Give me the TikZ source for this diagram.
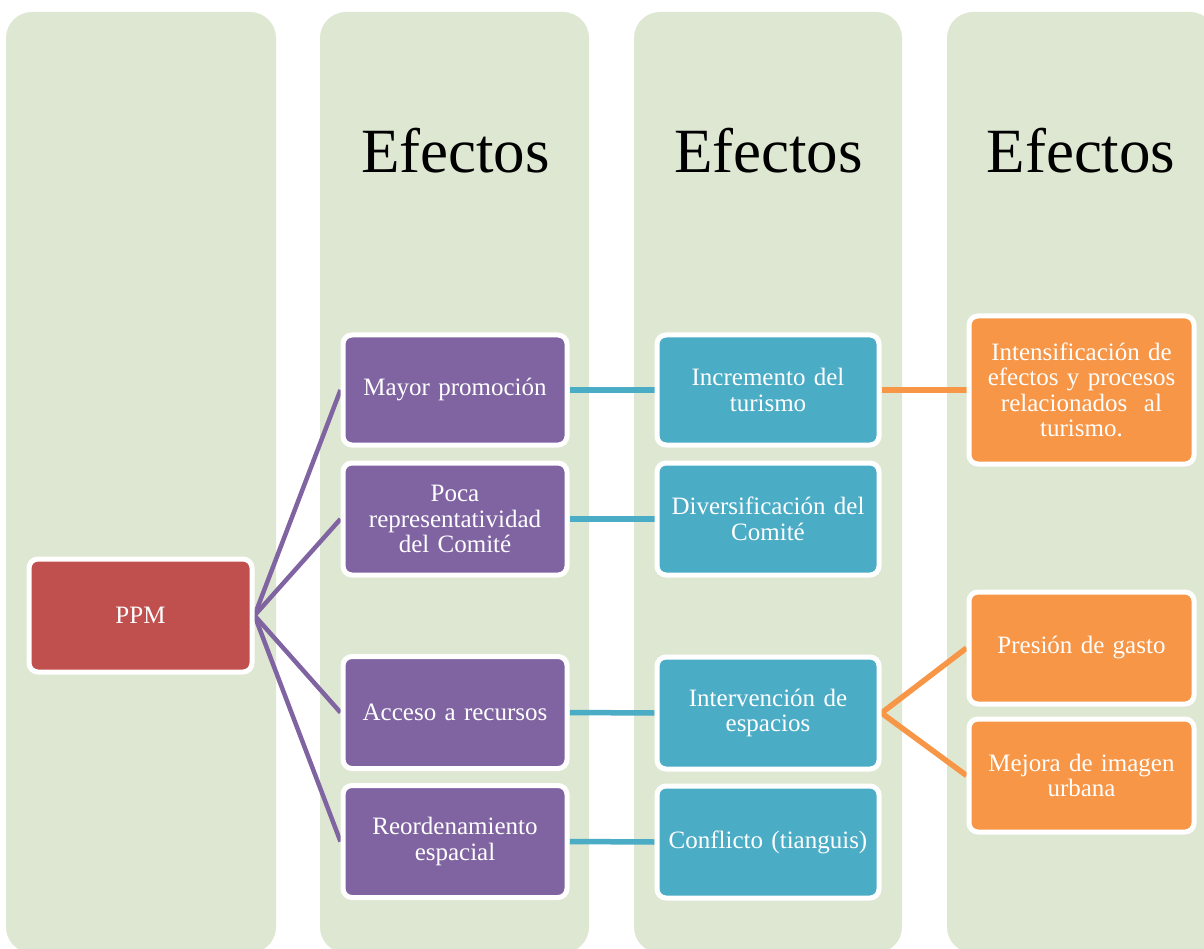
\documentclass[tikz,border=0pt]{standalone}
\usepackage{fontspec}
\setmainfont{Liberation Serif}
\pgfdeclarelayer{cols}
\pgfdeclarelayer{lines}
\pgfsetlayers{cols,lines,main}
\definecolor{colbg}{RGB}{222,231,210}
\definecolor{ppmred}{RGB}{192,80,77}
\definecolor{purp}{RGB}{128,100,162}
\definecolor{teal}{RGB}{75,172,198}
\definecolor{orng}{RGB}{247,150,70}
\begin{document}
\begin{tikzpicture}[x=1pt,y=-1pt,
  box/.style={draw=white, line width=5pt, rounded corners=9pt, minimum width=224pt,
    minimum height=110pt, text width=214pt, inner sep=0pt, text=white, align=center,
    font=\fontsize{25}{25.5}\selectfont},
  pbox/.style={box, fill=purp},
  tbox/.style={box, fill=teal, minimum width=222pt},
  obox/.style={box, fill=orng, minimum width=225pt},
  head/.style={font=\fontsize{63}{70}\selectfont, anchor=base, inner sep=0pt},
  col/.style={fill=colbg, rounded corners=26pt},
  plink/.style={draw=purp, line width=4.5pt},
  tlink/.style={draw=teal, line width=5.5pt},
  olink/.style={draw=orng, line width=5.5pt}]
\useasboundingbox (0,0) rectangle (1204,949);
\clip (0,0) rectangle (1204,949);
% columns
\begin{pgfonlayer}{cols}
\fill[col] (6,12) rectangle (276,953);
\fill[col] (320,12) rectangle (589,953);
\fill[col] (634,12) rectangle (902,953);
\fill[col] (947,12) rectangle (1216,953);
\end{pgfonlayer}
% headers
\node[head] (h2) at (455.5,173) {Efectos};
\node[head] (h3) at (768.5,173) {Efectos};
\node[head] (h4) at (1081,173) {Efectos};
% nodes
\node[box, fill=ppmred, minimum width=223pt, minimum height=113pt] (ppm) at (140.5,615.5) {PPM};
\node[pbox] (p1) at (455,390) {Mayor promoción};
\node[pbox, minimum height=112pt] (p2) at (455,519) {Poca\\representatividad\\del Comité};
\node[pbox, minimum height=112pt] (p3) at (455,712.5) {Acceso a recursos};
\node[pbox, minimum height=112pt] (p4) at (455,841.5) {Reordenamiento\\espacial};
\node[tbox] (t1) at (768,390) {Incremento del\\turismo};
\node[tbox, minimum height=112pt] (t2) at (768,519) {Diversificación del\\Comité};
\node[tbox, minimum height=112pt] (t3) at (768,713) {Intervención de\\espacios};
\node[tbox, minimum height=112pt] (t4) at (768,842) {Conflicto (tianguis)};
\node[obox, minimum height=148pt] (o1) at (1081.5,390) {Intensificación de\\efectos y procesos\\relacionados~ al\\turismo.};
\node[obox, minimum height=112pt] (o2) at (1081.5,648) {Presión de gasto};
\node[obox, minimum height=113pt] (o3) at (1081.5,775.5) {Mejora de imagen\\urbana};
% connectors
\begin{pgfonlayer}{lines}
\draw[plink] (ppm.east) -- (p1.west);
\draw[plink] (ppm.east) -- (p2.west);
\draw[plink] (ppm.east) -- (p3.west);
\draw[plink] (ppm.east) -- (p4.west);
\draw[tlink] (p1.east) -- (t1.west);
\draw[tlink] (p2.east) -- (t2.west);
\draw[tlink] (p3.east) -- (t3.west);
\draw[tlink] (p4.east) -- (t4.west);
\draw[olink] (t1.east) -- (o1.west);
\draw[olink] (t3.east) -- (o2.west);
\draw[olink] (t3.east) -- (o3.west);
\end{pgfonlayer}
\end{tikzpicture}
\end{document}
